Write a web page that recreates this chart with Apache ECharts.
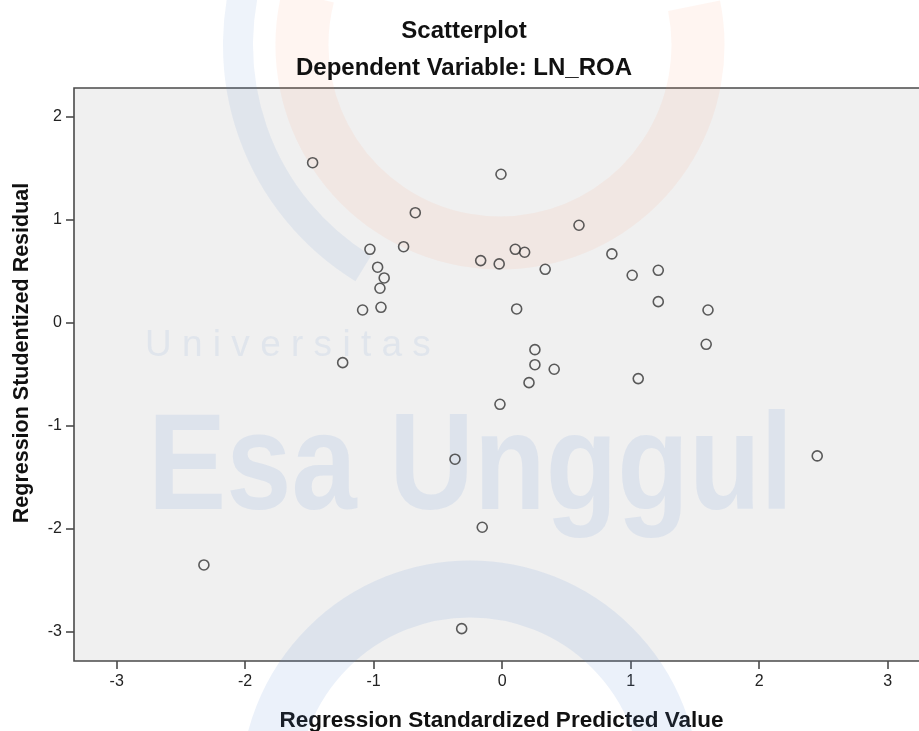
<!DOCTYPE html>
<html>
<head>
<meta charset="utf-8">
<script src="https://cdn.jsdelivr.net/npm/echarts@6/dist/echarts.min.js"></script>
<style>html,body{margin:0;padding:0;background:#fff}#c{width:919px;height:731px}</style>
</head>
<body>
<div id="c"></div>
<script>
// Regression Standardized Predicted Value (x) and Regression Studentized Residual (y)
var predicted = [-1.475,-0.676,-1.029,-0.767,-0.969,-0.918,-0.951,-1.086,-0.943,
  -0.009,0.598,0.102,0.175,-0.167,-0.023,0.335,0.854,0.113,
  1.012,1.215,1.215,1.602,1.588,1.059,
  -1.241,0.255,0.255,0.405,0.209,-0.017,
  -0.367,-0.155,-2.321,-0.315,2.452];
var residual = [1.553,1.068,0.713,0.738,0.539,0.435,0.335,0.124,0.150,
  1.441,0.946,0.713,0.684,0.603,0.571,0.519,0.668,0.134,
  0.461,0.509,0.205,0.124,-0.209,-0.542,
  -0.387,-0.261,-0.407,-0.451,-0.581,-0.791,
  -1.324,-1.984,-2.350,-2.968,-1.292];
var xTicks = [-3,-2,-1,0,1,2,3];
var yTicks = [-3,-2,-1,0,1,2];
var titleText = 'Scatterplot';
var subtitleText = 'Dependent Variable: LN_ROA';
var xName = 'Regression Standardized Predicted Value';
var yName = 'Regression Studentized Residual';

var points = predicted.map(function(v,i){return [v, residual[i]];});
var FONT = '"Liberation Sans", Arial, sans-serif';
var chart = echarts.init(document.getElementById('c'), null, {renderer:'canvas'});
var blue = 'rgba(90,140,210,0.12)';
var orange = 'rgba(255,140,100,0.09)';
chart.setOption({
  animation:false,
  backgroundColor:'#ffffff',
  title:[
    {text:titleText,left:464,top:19,textAlign:'center',padding:0,
     textStyle:{fontFamily:FONT,fontSize:24,fontWeight:'bold',color:'#111'}},
    {text:subtitleText,left:464,top:56,textAlign:'center',padding:0,
     textStyle:{fontFamily:FONT,fontSize:24,fontWeight:'bold',color:'#111'}}
  ],
  grid:{left:74,top:88,right:-5,bottom:70,show:true,backgroundColor:'#F0F0F0',
        borderColor:'#4a4a4a',borderWidth:1.6,outerBoundsMode:'none',containLabel:false},
  xAxis:{type:'value',min:-3.332,max:3.283,
    name:xName,nameLocation:'middle',nameGap:48,
    nameTextStyle:{fontFamily:FONT,fontSize:22.5,fontWeight:'bold',color:'#111',padding:[0,0,0,5]},
    axisLine:{show:false,onZero:false},splitLine:{show:false},
    axisTick:{show:true,customValues:xTicks,length:8,lineStyle:{color:'#4a4a4a',width:1.6}},
    axisLabel:{customValues:xTicks,margin:13,fontFamily:FONT,fontSize:16,color:'#222'}},
  yAxis:{type:'value',min:-3.282,max:2.278,
    name:yName,nameLocation:'middle',nameGap:41,
    nameTextStyle:{fontFamily:FONT,fontSize:21.5,fontWeight:'bold',color:'#111',padding:[0,0,0,43]},
    axisLine:{show:false,onZero:false},splitLine:{show:false},
    axisTick:{show:true,customValues:yTicks,length:8,lineStyle:{color:'#4a4a4a',width:1.6}},
    axisLabel:{customValues:yTicks,margin:12,fontFamily:FONT,fontSize:16,color:'#222'}},
  graphic:[
    {type:'arc',z:1,silent:true,shape:{cx:500,cy:45,r:262,startAngle:2.12,endAngle:Math.PI+0.35},
     style:{stroke:'rgba(90,140,210,0.10)',lineWidth:30,fill:null}},
    {type:'arc',z:1,silent:true,shape:{cx:500,cy:45,r:198,startAngle:-0.2,endAngle:Math.PI+0.25},
     style:{stroke:orange,lineWidth:53,fill:null}},
    {type:'arc',z:1,silent:true,shape:{cx:470,cy:790,r:201,startAngle:Math.PI,endAngle:Math.PI*2},
     style:{stroke:blue,lineWidth:57,fill:null}},
    {type:'text',z:1,silent:true,x:148,y:402,scaleX:0.85,style:{text:'Esa Unggul',x:0,y:0,fontSize:138,fontWeight:'bold',
      fontFamily:FONT,fill:blue,textBaseline:'alphabetic'}},
    {type:'text',z:1,silent:true,style:{text:'U n i v e r s i t a s',x:145,y:327,fontSize:37,
      fontFamily:FONT,fill:'rgba(90,140,210,0.10)',textBaseline:'alphabetic'}}
  ],
  series:[{type:'scatter',data:points,symbol:'circle',symbolSize:10,z:3,
    itemStyle:{color:'rgba(0,0,0,0)',borderColor:'#333',borderWidth:1.6}}]
});
</script>
</body>
</html>
